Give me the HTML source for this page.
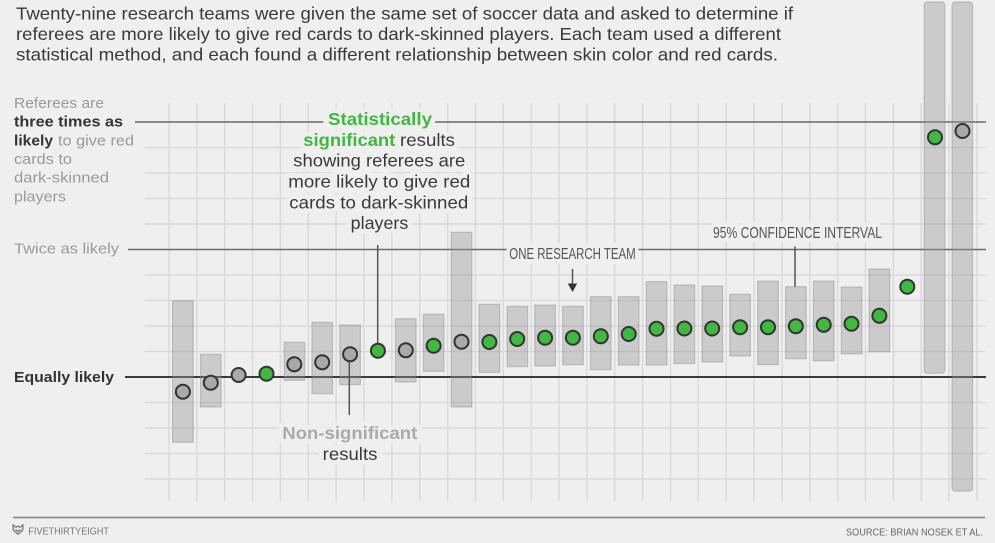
<!DOCTYPE html>
<html>
<head>
<meta charset="utf-8">
<style>
html,body{margin:0;padding:0;background:#efefef;}
svg{display:block;}
text{font-family:"Liberation Sans",Arial,sans-serif;}
.h{paint-order:stroke;stroke:#efefef;stroke-width:10;stroke-linejoin:round;}
</style>
</head>
<body>
<svg width="995" height="543" viewBox="0 0 995 543" xmlns="http://www.w3.org/2000/svg">
<rect width="995" height="543" fill="#efefef"/>

<!-- Title -->
<g font-size="17.5" fill="#3a3a3a">
<text x="16" y="19.5" textLength="777" lengthAdjust="spacingAndGlyphs">Twenty-nine research teams were given the same set of soccer data and asked to determine if</text>
<text x="16" y="40" textLength="765" lengthAdjust="spacingAndGlyphs">referees are more likely to give red cards to dark-skinned players. Each team used a different</text>
<text x="16" y="60.5" textLength="762" lengthAdjust="spacingAndGlyphs">statistical method, and each found a different relationship between skin color and red cards.</text>
</g>

<!-- Vertical grid -->
<g stroke="#dadada" stroke-width="1.5">
<line x1="169" y1="103" x2="169" y2="501"/>
<line x1="196.86" y1="103" x2="196.86" y2="501"/>
<line x1="224.72" y1="103" x2="224.72" y2="501"/>
<line x1="252.58" y1="103" x2="252.58" y2="501"/>
<line x1="280.44" y1="103" x2="280.44" y2="501"/>
<line x1="308.3" y1="103" x2="308.3" y2="501"/>
<line x1="336.16" y1="103" x2="336.16" y2="501"/>
<line x1="364.02" y1="103" x2="364.02" y2="501"/>
<line x1="391.88" y1="103" x2="391.88" y2="501"/>
<line x1="419.74" y1="103" x2="419.74" y2="501"/>
<line x1="447.6" y1="103" x2="447.6" y2="501"/>
<line x1="475.46" y1="103" x2="475.46" y2="501"/>
<line x1="503.32" y1="103" x2="503.32" y2="501"/>
<line x1="531.18" y1="103" x2="531.18" y2="501"/>
<line x1="559.04" y1="103" x2="559.04" y2="501"/>
<line x1="586.9" y1="103" x2="586.9" y2="501"/>
<line x1="614.76" y1="103" x2="614.76" y2="501"/>
<line x1="642.62" y1="103" x2="642.62" y2="501"/>
<line x1="670.48" y1="103" x2="670.48" y2="501"/>
<line x1="698.34" y1="103" x2="698.34" y2="501"/>
<line x1="726.2" y1="103" x2="726.2" y2="501"/>
<line x1="754.06" y1="103" x2="754.06" y2="501"/>
<line x1="781.92" y1="103" x2="781.92" y2="501"/>
<line x1="809.78" y1="103" x2="809.78" y2="501"/>
<line x1="837.64" y1="103" x2="837.64" y2="501"/>
<line x1="865.5" y1="103" x2="865.5" y2="501"/>
<line x1="893.36" y1="103" x2="893.36" y2="501"/>
<line x1="921.22" y1="103" x2="921.22" y2="501"/>
<line x1="949.08" y1="103" x2="949.08" y2="501"/>
<line x1="976.94" y1="103" x2="976.94" y2="501"/>
</g>
<!-- Horizontal grid -->
<g stroke="#dadada" stroke-width="1.5">
<line x1="145" y1="147.5" x2="986" y2="147.5"/>
<line x1="145" y1="173" x2="986" y2="173"/>
<line x1="145" y1="198.5" x2="986" y2="198.5"/>
<line x1="145" y1="224" x2="986" y2="224"/>
<line x1="145" y1="275" x2="986" y2="275"/>
<line x1="145" y1="300.5" x2="986" y2="300.5"/>
<line x1="145" y1="326" x2="986" y2="326"/>
<line x1="145" y1="351.5" x2="986" y2="351.5"/>
<line x1="145" y1="402.5" x2="986" y2="402.5"/>
<line x1="145" y1="428" x2="986" y2="428"/>
<line x1="145" y1="453.5" x2="986" y2="453.5"/>
<line x1="145" y1="479" x2="986" y2="479"/>
</g>

<!-- Reference lines -->
<line x1="135" y1="122" x2="986" y2="122" stroke="#6a6a6a" stroke-width="1.5"/>
<line x1="128" y1="249.5" x2="986" y2="249.5" stroke="#6a6a6a" stroke-width="1.5"/>
<line x1="125" y1="377" x2="986" y2="377" stroke="#3a3a3a" stroke-width="2"/>

<!-- Bars -->
<g fill="rgba(150,150,150,0.4)" stroke="rgba(120,120,120,0.35)" stroke-width="1.2">
<rect x="172.6" y="300.7" width="20.6" height="141.6"/>
<rect x="200.5" y="354.3" width="20.6" height="52.7"/>
<rect x="284.1" y="342.3" width="20.6" height="38"/>
<rect x="311.9" y="322.3" width="20.6" height="71.4"/>
<rect x="339.8" y="325" width="20.6" height="59.7"/>
<rect x="395.5" y="318.7" width="20.6" height="63.3"/>
<rect x="423.4" y="314.3" width="20.6" height="57"/>
<rect x="451.2" y="232.3" width="20.6" height="174.7"/>
<rect x="479.1" y="304.3" width="20.6" height="68"/>
<rect x="507" y="306.3" width="20.6" height="60.4"/>
<rect x="534.8" y="305" width="20.6" height="61"/>
<rect x="562.7" y="306.3" width="20.6" height="58.4"/>
<rect x="590.5" y="296.7" width="20.6" height="73"/>
<rect x="618.4" y="296.7" width="20.6" height="68.3"/>
<rect x="646.3" y="281.7" width="20.6" height="83.3"/>
<rect x="674.1" y="285" width="20.6" height="78.5"/>
<rect x="702" y="286" width="20.6" height="76"/>
<rect x="729.8" y="294.3" width="20.6" height="61.7"/>
<rect x="757.7" y="281.2" width="20.6" height="83.4"/>
<rect x="785.6" y="286.7" width="20.6" height="72"/>
<rect x="813.4" y="281.2" width="20.6" height="79.6"/>
<rect x="841.3" y="287" width="20.6" height="66.9"/>
<rect x="869.1" y="269" width="20.6" height="82.8"/>
<rect x="924.2" y="2" width="20.6" height="371.3" rx="3"/>
<rect x="952" y="2" width="20.6" height="489" rx="3"/>
</g>

<!-- Leader lines -->
<g stroke="#555" stroke-width="1.5">
<line x1="377.7" y1="245" x2="377.7" y2="343"/>
<line x1="349.3" y1="362" x2="349.3" y2="415"/>
<line x1="795" y1="246.5" x2="795" y2="286.7"/>
<line x1="572.5" y1="269" x2="572.5" y2="285"/>
</g>
<polygon points="567.8,283.5 577.2,283.5 572.5,292" fill="#333"/>

<!-- Dots -->
<g stroke="#333" stroke-width="2">
<circle cx="182.9" cy="391.7" r="7" fill="#a9a9a9"/>
<circle cx="210.8" cy="382.7" r="7" fill="#a9a9a9"/>
<circle cx="238.6" cy="375" r="7" fill="#a9a9a9"/>
<circle cx="266.5" cy="373.7" r="7" fill="#3dbb3d"/>
<circle cx="294.3" cy="364.3" r="7" fill="#a9a9a9"/>
<circle cx="322.2" cy="362.3" r="7" fill="#a9a9a9"/>
<circle cx="350.1" cy="354.3" r="7" fill="#a9a9a9"/>
<circle cx="377.9" cy="350.7" r="7" fill="#3dbb3d"/>
<circle cx="405.8" cy="350.3" r="7" fill="#a9a9a9"/>
<circle cx="433.6" cy="345.7" r="7" fill="#3dbb3d"/>
<circle cx="461.5" cy="341.7" r="7" fill="#a9a9a9"/>
<circle cx="489.4" cy="342" r="7" fill="#3dbb3d"/>
<circle cx="517.2" cy="339" r="7" fill="#3dbb3d"/>
<circle cx="545.1" cy="337.7" r="7" fill="#3dbb3d"/>
<circle cx="572.9" cy="337.7" r="7" fill="#3dbb3d"/>
<circle cx="600.8" cy="336.3" r="7" fill="#3dbb3d"/>
<circle cx="628.7" cy="334" r="7" fill="#3dbb3d"/>
<circle cx="656.5" cy="328.7" r="7" fill="#3dbb3d"/>
<circle cx="684.4" cy="328.5" r="7" fill="#3dbb3d"/>
<circle cx="712.2" cy="328.5" r="7" fill="#3dbb3d"/>
<circle cx="740.1" cy="327.2" r="7" fill="#3dbb3d"/>
<circle cx="768" cy="327.2" r="7" fill="#3dbb3d"/>
<circle cx="795.8" cy="326.2" r="7" fill="#3dbb3d"/>
<circle cx="823.7" cy="324.8" r="7" fill="#3dbb3d"/>
<circle cx="851.5" cy="323.7" r="7" fill="#3dbb3d"/>
<circle cx="879.4" cy="315.8" r="7" fill="#3dbb3d"/>
<circle cx="907.3" cy="286.7" r="7" fill="#3dbb3d"/>
<circle cx="935" cy="137.3" r="7" fill="#3dbb3d"/>
<circle cx="962.5" cy="131" r="7" fill="#a9a9a9"/>
</g>

<!-- Left labels -->
<g font-size="15">
<text x="14" y="108" fill="#9a9a9a" textLength="90" lengthAdjust="spacingAndGlyphs">Referees are</text>
<text x="14" y="126.7" fill="#333" font-weight="bold" textLength="109" lengthAdjust="spacingAndGlyphs">three times as</text>
<text x="14" y="145.3" fill="#333" font-weight="bold" textLength="39" lengthAdjust="spacingAndGlyphs">likely</text>
<text x="58" y="145.3" fill="#9a9a9a" textLength="76" lengthAdjust="spacingAndGlyphs">to give red</text>
<text x="14" y="164" fill="#9a9a9a" textLength="58" lengthAdjust="spacingAndGlyphs">cards to</text>
<text x="14" y="182.6" fill="#9a9a9a" textLength="95" lengthAdjust="spacingAndGlyphs">dark-skinned</text>
<text x="14" y="201.3" fill="#9a9a9a" textLength="52" lengthAdjust="spacingAndGlyphs">players</text>
<text x="14" y="253.5" fill="#9a9a9a" textLength="105" lengthAdjust="spacingAndGlyphs">Twice as likely</text>
<text x="14" y="382" fill="#333" font-weight="bold" textLength="100" lengthAdjust="spacingAndGlyphs">Equally likely</text>
</g>

<!-- Statistically significant annotation -->
<g font-size="17.5">
<text class="h" x="328" y="125" fill="#3dbb3d" font-weight="bold" textLength="104" lengthAdjust="spacingAndGlyphs">Statistically</text>
<text class="h" x="303.3" y="146" fill="#3dbb3d" font-weight="bold" textLength="92" lengthAdjust="spacingAndGlyphs">significant</text>
<text class="h" x="400" y="146" fill="#3a3a3a" textLength="55" lengthAdjust="spacingAndGlyphs">results</text>
<text class="h" x="293.3" y="166.7" fill="#3a3a3a" textLength="172" lengthAdjust="spacingAndGlyphs">showing referees are</text>
<text class="h" x="288.3" y="187.5" fill="#3a3a3a" textLength="182" lengthAdjust="spacingAndGlyphs">more likely to give red</text>
<text class="h" x="289.3" y="208.3" fill="#3a3a3a" textLength="179" lengthAdjust="spacingAndGlyphs">cards to dark-skinned</text>
<text class="h" x="350.7" y="229" fill="#3a3a3a" textLength="57.6" lengthAdjust="spacingAndGlyphs">players</text>
</g>

<!-- Non-significant annotation -->
<g font-size="17.5">
<text class="h" x="282.3" y="439" fill="#aaaaaa" font-weight="bold" textLength="135" lengthAdjust="spacingAndGlyphs">Non-significant</text>
<text class="h" x="322.7" y="460" fill="#3a3a3a" textLength="54.7" lengthAdjust="spacingAndGlyphs">results</text>
</g>

<!-- Condensed labels -->
<text class="h" x="509.3" y="259" font-size="15.5" fill="#555" textLength="126.4" lengthAdjust="spacingAndGlyphs">ONE RESEARCH TEAM</text>
<text class="h" x="713" y="238" font-size="15.5" fill="#555" textLength="169" lengthAdjust="spacingAndGlyphs">95% CONFIDENCE INTERVAL</text>

<!-- Footer -->
<line x1="13" y1="517.5" x2="985" y2="517.5" stroke="#8a8a8a" stroke-width="1.8"/>
<path d="M13.2,525 L16,527.2 L18,526.2 L20,527.2 L22.8,525 L22.8,530 L18,534.3 L13.2,530 Z M15.5,529.5 L18,531.5 L20.5,529.5" fill="none" stroke="#777" stroke-width="1.3"/>
<text x="28.3" y="534.3" font-size="10.5" fill="#777" textLength="80.7" lengthAdjust="spacingAndGlyphs">FIVETHIRTYEIGHT</text>
<text x="846" y="535.5" font-size="10.5" fill="#666" textLength="137" lengthAdjust="spacingAndGlyphs">SOURCE: BRIAN NOSEK ET AL.</text>
</svg>
</body>
</html>
